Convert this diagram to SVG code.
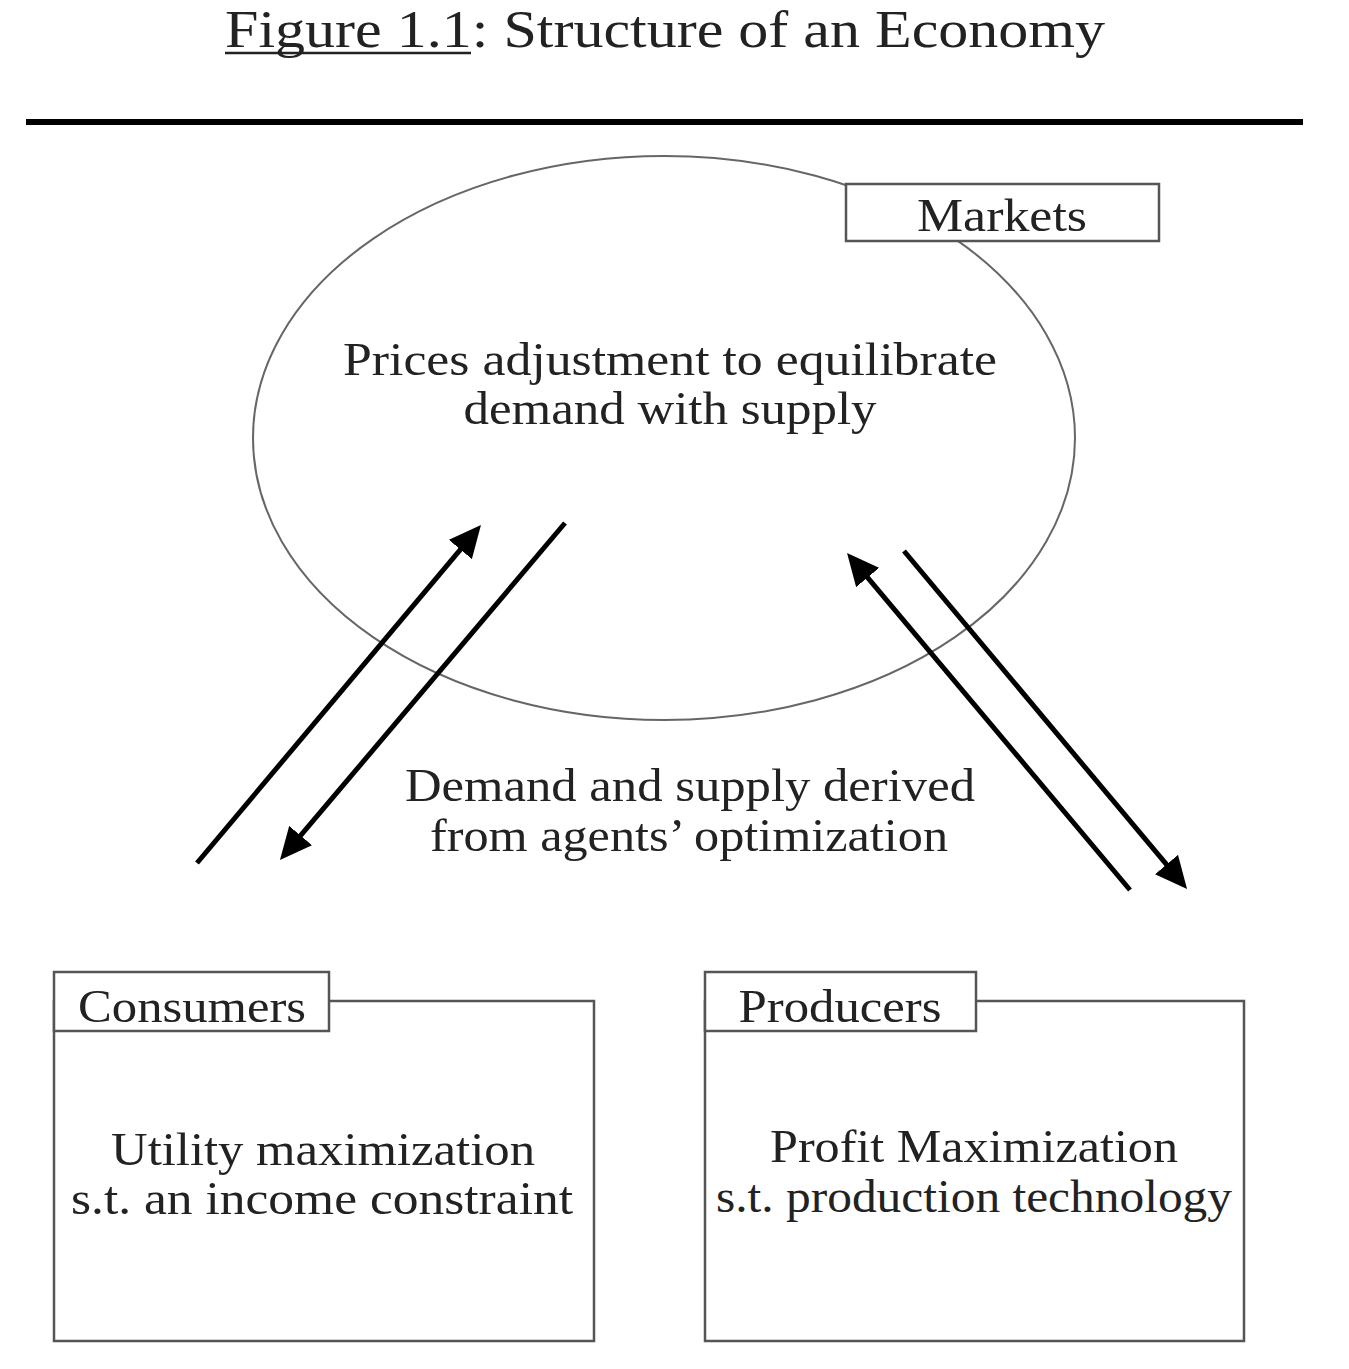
<svg xmlns="http://www.w3.org/2000/svg" width="1349" height="1369" viewBox="0 0 1349 1369">
<style>
text{font-family:"Liberation Serif","DejaVu Serif",serif;fill:#222;}
.t{font-size:46px;text-anchor:middle;}
.frame{fill:#fff;stroke:#555;stroke-width:2.5;}
.arr{stroke:#000;stroke-width:5;fill:none;marker-end:url(#ah);}
</style>
<defs>
<marker id="ah" markerUnits="userSpaceOnUse" markerWidth="32" markerHeight="30" viewBox="0 0 32 30" refX="12" refY="15" orient="auto">
<path d="M0,0 L32,15 L0,30 z" fill="#000"/>
</marker>
</defs>
<rect x="0" y="0" width="1349" height="1369" fill="#fff"/>
<g id="title">
<text x="665" y="47" style="font-size:52px;text-anchor:middle" textLength="880" lengthAdjust="spacingAndGlyphs">Figure 1.1: Structure of an Economy</text>
<line x1="225" y1="53" x2="471" y2="53" stroke="#222" stroke-width="2.5"/>
<line x1="26" y1="122" x2="1303" y2="122" stroke="#000" stroke-width="6"/>
</g>
<g id="markets">
<ellipse cx="664" cy="438" rx="411" ry="282" fill="none" stroke="#666" stroke-width="2"/>
<rect class="frame" x="846" y="184" width="313" height="57"/>
<text class="t" x="1002" y="231" textLength="170" lengthAdjust="spacingAndGlyphs">Markets</text>
<text class="t" x="670" y="375" textLength="654" lengthAdjust="spacingAndGlyphs">Prices adjustment to equilibrate</text>
<text class="t" x="670" y="424" textLength="413" lengthAdjust="spacingAndGlyphs">demand with supply</text>
</g>
<g id="connectors">
<line class="arr" x1="197" y1="863" x2="468.1" y2="540.3"/>
<line class="arr" x1="565" y1="523" x2="292.9" y2="844.7"/>
<line class="arr" x1="1130" y1="890" x2="859.9" y2="568.3"/>
<line class="arr" x1="904" y1="551" x2="1174.2" y2="873.7"/>
<text class="t" x="690" y="801" textLength="570" lengthAdjust="spacingAndGlyphs">Demand and supply derived</text>
<text class="t" x="689" y="851" textLength="518" lengthAdjust="spacingAndGlyphs">from agents’ optimization</text>
</g>
<g id="consumers">
<path class="frame" d="M54,1001 L594,1001 L594,1341 L54,1341 Z"/>
<rect class="frame" x="54" y="972" width="275" height="59"/>
<text class="t" x="192" y="1022" textLength="228" lengthAdjust="spacingAndGlyphs">Consumers</text>
<text class="t" x="323" y="1165" textLength="424" lengthAdjust="spacingAndGlyphs">Utility maximization</text>
<text class="t" x="322" y="1214" textLength="502" lengthAdjust="spacingAndGlyphs">s.t. an income constraint</text>
</g>
<g id="producers">
<path class="frame" d="M705,1001 L1244,1001 L1244,1341 L705,1341 Z"/>
<rect class="frame" x="705" y="972" width="271" height="59"/>
<text class="t" x="840" y="1022" textLength="203" lengthAdjust="spacingAndGlyphs">Producers</text>
<text class="t" x="974" y="1162" textLength="408" lengthAdjust="spacingAndGlyphs">Profit Maximization</text>
<text class="t" x="974" y="1212" textLength="516" lengthAdjust="spacingAndGlyphs">s.t. production technology</text>
</g>
</svg>
